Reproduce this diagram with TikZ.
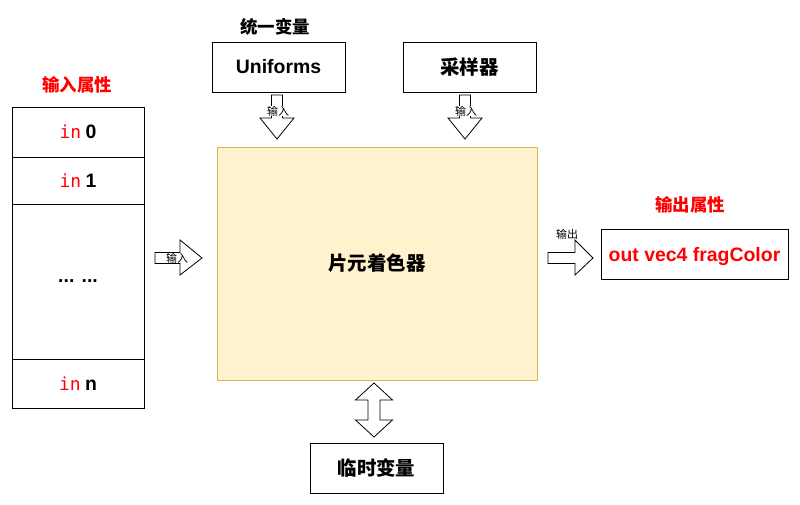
\documentclass[tikz,border=0pt]{standalone}
\usepackage{fontspec}
\setmainfont{Noto Sans CJK SC}
\setmonofont{DejaVu Sans Mono}
\newfontfamily\latinfont{Liberation Sans}
\definecolor{lblred}{HTML}{FF0000}
\definecolor{mainfill}{HTML}{FFF2CC}
\definecolor{mainline}{HTML}{D6B656}
\begin{document}
\begin{tikzpicture}[x=1bp,y=-1bp,
  box/.style={draw=black, line width=0.9bp, rectangle, inner sep=0pt, font=\fontsize{19.5}{22}\selectfont\bfseries},
  blockarrow/.style={draw=black, line width=0.8bp, fill=white, line join=miter},
  small/.style={font=\fontsize{11}{12}\selectfont, inner sep=0.2bp},
  title/.style={font=\fontsize{17.5}{20}\selectfont\bfseries}]
\useasboundingbox (0,0) rectangle (800,505);

% input attribute column
\node[title, text=lblred] (inlbl) at (77,85) {输入属性};
\node[box, minimum width=132bp, minimum height=50bp] (in0) at (78,132) {{\mdseries\ttfamily\fontsize{18}{20}\selectfont\color{lblred}in} {\latinfont 0}};
\node[box, minimum width=132bp, minimum height=47bp] (in1) at (78,180.5) {{\mdseries\ttfamily\fontsize{18}{20}\selectfont\color{lblred}in} {\latinfont 1}};
\node[box, minimum width=132bp, minimum height=155bp] (indots) at (78,281.5) {{\latinfont ... ...}};
\node[box, minimum width=132bp, minimum height=49bp] (inn) at (78,383.5) {{\mdseries\ttfamily\fontsize{18}{20}\selectfont\color{lblred}in} {\latinfont n}};

% main shader box
\node[box, draw=mainline, fill=mainfill, minimum width=320bp, minimum height=233bp] (main) at (377,263.5) {片元着色器};

% uniforms and sampler
\node[title] (unilbl) at (275,27) {统一变量};
\node[box, minimum width=133bp, minimum height=50bp] (uni) at (278.5,67) {{\latinfont Uniforms}};
\node[box, minimum width=133bp, minimum height=50bp] (smp) at (469.5,67) {采样器};

% down arrows
\foreach \cx/\nm in {277/ua,465/sa}{
  \draw[blockarrow] (\cx-5.5,95) -- (\cx+5.5,95) -- (\cx+5.5,118) -- (\cx+17,118) -- (\cx,139) -- (\cx-17,118) -- (\cx-5.5,118) -- cycle;
  \node[small, fill=white] (\nm) at (\cx+1,111) {输入};
}

% input arrow
\draw[blockarrow] (155,252.5) -- (180,252.5) -- (180,240) -- (202,258) -- (180,275) -- (180,263.5) -- (155,263.5) -- cycle;
\node[small, fill=white] (ia) at (177,258) {输入};

% output arrow
\draw[blockarrow] (548,252.5) -- (575,252.5) -- (575,240) -- (593,258) -- (575,275) -- (575,263.5) -- (548,263.5) -- cycle;
\node[small] (oa) at (567,234) {输出};

% output attribute
\node[title, text=lblred] (outlbl) at (690,205) {输出属性};
\node[box, minimum width=187bp, minimum height=50bp, text=lblred, text depth=0pt] (out) at (694.5,254) {{\latinfont out vec4 fragColor}};

% double arrow to temp variables
\draw[blockarrow] (374,383) -- (392.5,400) -- (380,400) -- (380,420) -- (392.5,420) -- (374,437) -- (355.5,420) -- (368,420) -- (368,400) -- (355.5,400) -- cycle;
\node[box, minimum width=133bp, minimum height=50bp] (tmp) at (376.5,468) {临时变量};
\end{tikzpicture}
\end{document}
